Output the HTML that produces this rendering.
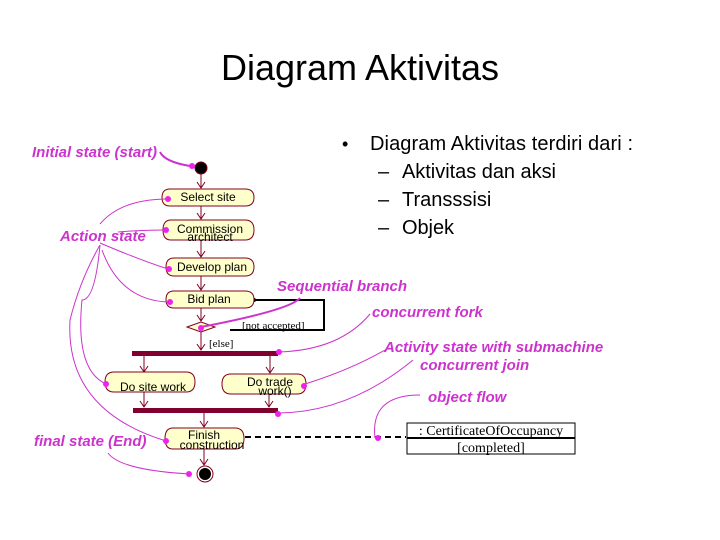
<!DOCTYPE html>
<html><head><meta charset="utf-8"><style>
html,body{margin:0;padding:0;background:#fff;width:720px;height:540px;overflow:hidden}
svg{display:block}
.t{font-family:"Liberation Sans",sans-serif}
.m{font-family:"Liberation Sans",sans-serif;font-style:italic;font-weight:bold;fill:#cc33cc;font-size:15px}
.n{font-family:"Liberation Sans",sans-serif;font-size:12px;fill:#000}
.s{font-family:"Liberation Serif",serif;fill:#000}
</style></head><body>
<svg width="720" height="540" viewBox="0 0 720 540" xmlns="http://www.w3.org/2000/svg">
<text class="t" x="360" y="80" font-size="36" text-anchor="middle" textLength="278">Diagram Aktivitas</text>
<text class="t" x="342" y="150" font-size="18">•</text>
<text class="t" x="370" y="150" font-size="20" textLength="263">Diagram Aktivitas terdiri dari :</text>
<text class="t" x="378" y="178" font-size="20">–</text><text class="t" x="402" y="178" font-size="20" textLength="154">Aktivitas dan aksi</text>
<text class="t" x="378" y="206" font-size="20">–</text><text class="t" x="402" y="206" font-size="20">Transssisi</text>
<text class="t" x="378" y="234" font-size="20">–</text><text class="t" x="402" y="234" font-size="20" textLength="52">Objek</text>

<!-- flow arrows -->
<g stroke="#800020" stroke-width="1" fill="none">
<path d="M201,170 V188 M197,182 L201,188 L205,182"/>
<path d="M201,206 V219 M197,213 L201,219 L205,213"/>
<path d="M201,240 V257 M197,251 L201,257 L205,251"/>
<path d="M201,276 V290 M197,284 L201,290 L205,284"/>
<path d="M201,308 V321 M197,315 L201,321 L205,315"/>
<path d="M201,332 V350 M197,344 L201,350 L205,344"/>
<path d="M144,356 V372 M140,366 L144,372 L148,366"/>
<path d="M270,356 V373 M266,367 L270,373 L274,367"/>
<path d="M144,392 V407 M140,401 L144,407 L148,401"/>
<path d="M269,394 V407 M265,401 L269,407 L273,401"/>
<path d="M204,413 V427 M200,421 L204,427 L208,421"/>
<path d="M204,449 V465 M200,459 L204,465 L208,459"/>
</g>
<!-- branch loop -->
<polyline points="253,300 324,300 324,330 230,330" fill="none" stroke="#000" stroke-width="2"/>
<circle cx="254" cy="300" r="2" fill="#000"/>
<text class="s" x="242" y="329" font-size="11">[not accepted]</text>
<text class="s" x="209" y="347" font-size="11">[else]</text>

<!-- nodes -->
<g fill="#ffffcc" stroke="#800020" stroke-width="1">
<path d="M170,189 H245 Q254,189 254,197.5 Q254,206 245,206 H170 Q162,206 162,197.5 Q162,189 170,189Z"/>
<path d="M171,220 H245 Q254,220 254,230 Q254,240 245,240 H171 Q163,240 163,230 Q163,220 171,220Z"/>
<path d="M174,258 H245 Q254,258 254,267 Q254,276 245,276 H174 Q166,276 166,267 Q166,258 174,258Z"/>
<path d="M174,291 H245 Q254,291 254,299.5 Q254,308 245,308 H174 Q166,308 166,299.5 Q166,291 174,291Z"/>
<path d="M187,327 L201,322 L215,327 L201,332Z"/>
<path d="M114,372 H186 Q195,372 195,382 Q195,392 186,392 H114 Q105,392 105,382 Q105,372 114,372Z"/>
<path d="M231,374 H297 Q306,374 306,384 Q306,394 297,394 H231 Q222,394 222,384 Q222,374 231,374Z"/>
<path d="M173,428 H235 Q244,428 244,438.5 Q244,449 235,449 H173 Q165,449 165,438.5 Q165,428 173,428Z"/>
</g>
<rect x="132" y="351" width="146" height="5" fill="#800030"/>
<rect x="133" y="408" width="145" height="5" fill="#800030"/>
<circle cx="201" cy="168" r="6" fill="#000" stroke="#800020"/>
<circle cx="205" cy="474" r="8" fill="#fff" stroke="#800020"/>
<circle cx="205" cy="474" r="6" fill="#000"/>

<text class="n" x="208" y="201" text-anchor="middle">Select site</text>
<text class="n" x="210" y="233" text-anchor="middle">Commission</text>
<text class="n" x="210" y="241" text-anchor="middle">architect</text>
<text class="n" x="212" y="271" text-anchor="middle">Develop plan</text>
<text class="n" x="209" y="303" text-anchor="middle">Bid plan</text>
<text class="n" x="153" y="391" text-anchor="middle">Do site work</text>
<text class="n" x="270" y="386" text-anchor="middle">Do trade</text>
<text class="n" x="275" y="395" text-anchor="middle">work()</text>
<text class="n" x="204" y="439" text-anchor="middle" font-size="10">Finish</text>
<text class="n" x="212" y="449" text-anchor="middle">construction</text>

<!-- object flow -->
<line x1="245" y1="437" x2="406" y2="437" stroke="#000" stroke-width="2" stroke-dasharray="6,4"/>
<rect x="407" y="423" width="168" height="31" fill="#fff" stroke="#000"/>
<line x1="407" y1="438" x2="575" y2="438" stroke="#000" stroke-width="2"/>
<text class="s" x="491" y="435" font-size="14" text-anchor="middle">: CertificateOfOccupancy</text>
<text class="s" x="491" y="452" font-size="14" text-anchor="middle">[completed]</text>

<!-- annotations -->
<g stroke="#cc33cc" fill="none" stroke-width="1">
<path d="M160,152 Q165,162 190,166" stroke-width="2"/>
<path d="M100,224 Q120,200 165,199"/>
<path d="M118,232 Q140,230 166,230"/>
<path d="M100,243 Q140,260 168,269"/>
<path d="M102,250 Q120,300 168,302"/>
<path d="M100,245 Q95,300 82,300 Q75,370 106,384"/>
<path d="M100,245 Q80,280 70,320 Q65,410 166,441"/>
<path d="M108,453 Q120,470 190,474"/>
<path d="M201,327 Q290,310 300,298" stroke-width="2"/>
<path d="M279,352 Q340,350 370,314"/>
<path d="M305,384 Q350,370 385,350"/>
<path d="M279,413 Q350,412 413,360"/>
<path d="M375,438 Q370,395 420,395"/>
</g>
<g fill="#ee22ee">
<circle cx="192" cy="166" r="3"/>
<circle cx="168" cy="199" r="3"/>
<circle cx="166" cy="230" r="3"/>
<circle cx="169" cy="269" r="3"/>
<circle cx="170" cy="302" r="3"/>
<circle cx="106" cy="384" r="3"/>
<circle cx="166" cy="441" r="3"/>
<circle cx="189" cy="474" r="3"/>
<circle cx="201" cy="328" r="3"/>
<circle cx="279" cy="352" r="3"/>
<circle cx="304" cy="386" r="3"/>
<circle cx="278" cy="414" r="3"/>
<circle cx="378" cy="438" r="3"/>
</g>
<text class="m" x="32" y="157">Initial state (start)</text>
<text class="m" x="60" y="241">Action state</text>
<text class="m" x="34" y="446">final state (End)</text>
<text class="m" x="277" y="291">Sequential branch</text>
<text class="m" x="372" y="317">concurrent fork</text>
<text class="m" x="384" y="352">Activity state with submachine</text>
<text class="m" x="420" y="370">concurrent join</text>
<text class="m" x="428" y="402">object flow</text>
</svg>
</body></html>
